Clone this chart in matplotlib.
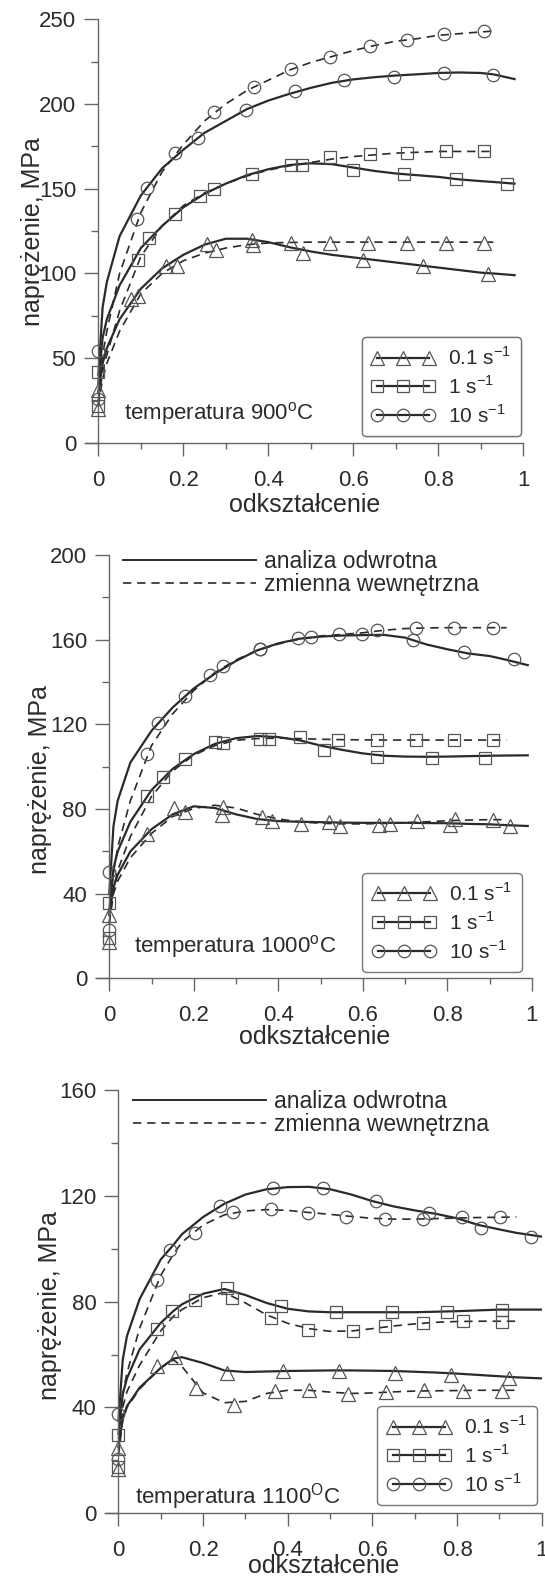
import numpy as np
import matplotlib.pyplot as plt
from matplotlib.lines import Line2D
from matplotlib.ticker import MultipleLocator

plt.rcParams['font.family'] = ['Liberation Sans', 'DejaVu Sans']
plt.rcParams['mathtext.fontset'] = 'custom'
plt.rcParams['mathtext.rm'] = 'Liberation Sans'

# oznaczenia predkosci odksztalcenia
rate_labels = ['0.1 s$^{-1}$', '1 s$^{-1}$', '10 s$^{-1}$']
rate_markers = ['^', 's', 'o']
line_labels = ['analiza odwrotna', 'zmienna wewnętrzna']

# ---------------- 900 C ----------------
eps_900 = [0, .01, .02, .05, .1, .15, .2, .25, .3, .35, .4, .45, .5, .55, .6, .65, .7, .75, .8, .85, .9, .93, .98]
sol_900_01 = [30, 47, 56, 73, 91, 103, 111, 117, 120.5, 120.5, 118.5, 115.5, 113, 111, 109.5, 108, 106.5, 105, 103.5, 102, 100.5, 100, 99]
sol_900_1 = [35, 62, 73, 93, 115, 128, 139, 147, 153, 158, 161.5, 164, 165, 164.5, 162.5, 160.5, 159, 158, 157, 155.5, 154.5, 154, 153]
sol_900_10 = [40, 80, 95, 122, 146, 162, 173, 183, 190, 197, 202, 206, 209.5, 212.5, 214.5, 215.8, 216.8, 217.5, 218.3, 218.6, 218.3, 217.5, 214.7]
das_900_01 = [22, 38, 47, 66, 88, 100, 107.5, 112, 115, 117, 118, 118.3, 118.5, 118.5, 118.5, 118.5, 118.5, 118.5, 118.5, 118.5, 118.5, 118.5]
das_900_1 = [25, 42, 52, 78, 110, 128, 140, 147.5, 153, 157.5, 161, 163.5, 165.5, 167.5, 169, 170, 171, 171.5, 172, 172, 172, 172]
das_900_10 = [30, 52, 66, 100, 136, 160, 176, 190, 200, 208, 214, 220, 224.5, 228, 231.5, 234.5, 237, 238.5, 240.5, 241.5, 242.5, 243]
pts_900_sol_01 = [(0, 31), (0.078, 85), (0.16, 104.5), (0.256, 117.6), (0.361, 120), (0.483, 112), (0.624, 108), (0.764, 104.5), (0.917, 99.6)]
pts_900_sol_1 = [(0, 41.8), (0.119, 121), (0.181, 135), (0.239, 145.7), (0.361, 158.4), (0.454, 164), (0.599, 161), (0.719, 158.8), (0.843, 155.5), (0.963, 153)]
pts_900_sol_10 = [(0, 54.5), (0.115, 150.6), (0.235, 180), (0.347, 196.7), (0.462, 207.5), (0.578, 214), (0.696, 216), (0.814, 218), (0.930, 217)]
pts_900_das_01 = [(0, 20), (0.094, 87), (0.185, 104.5), (0.276, 114), (0.363, 117), (0.454, 118), (0.545, 118), (0.636, 118), (0.727, 118), (0.818, 118), (0.909, 118)]
pts_900_das_1 = [(0, 21.6), (0.094, 108), (0.272, 149.6), (0.479, 164), (0.545, 168.6), (0.64, 170.6), (0.727, 171), (0.818, 172), (0.909, 172)]
pts_900_das_10 = [(0, 26), (0.09, 132), (0.181, 171), (0.272, 195), (0.366, 210), (0.454, 220.6), (0.545, 228), (0.639, 234), (0.727, 238), (0.814, 241), (0.909, 243)]

# ---------------- 1000 C ----------------
eps_1000 = [0, .01, .02, .05, .1, .15, .2, .25, .3, .35, .4, .45, .5, .55, .6, .65, .7, .75, .8, .85, .9, .94, .99]
sol_1000_01 = [30, 43, 49, 60, 70.5, 77.5, 81.3, 80.5, 77.5, 75.3, 74.3, 74, 73.8, 73.6, 73.5, 73.5, 73.5, 73.4, 73.3, 73, 72.8, 72.4, 72]
sol_1000_1 = [32, 52, 60, 74, 89, 99, 106, 110.8, 113.5, 114.5, 114, 112.5, 110, 108, 106.3, 105.2, 104.8, 104.7, 104.8, 105, 105.2, 105.3, 105.4]
sol_1000_10 = [40, 72, 84, 102, 117, 128, 137, 144, 150, 155, 158.3, 160.5, 161.5, 162, 162.2, 162.3, 161, 157.8, 155.5, 153.5, 152.3, 150.5, 148]
das_1000_01 = [26, 40, 46, 57, 68.5, 76.5, 80.3, 81.8, 80.5, 77.5, 75.3, 74, 73.3, 73, 73, 73.2, 73.6, 74, 74.5, 74.8, 75, 75]
das_1000_1 = [26, 42, 51, 67, 86, 98, 105.5, 110, 112.5, 113.3, 113.5, 113.3, 113, 112.8, 112.7, 112.6, 112.6, 112.6, 112.6, 112.6, 112.6, 112.6]
das_1000_10 = [30, 50, 62, 84, 110, 125, 136, 144.5, 150.5, 155, 158, 160.3, 161.8, 162.5, 163.3, 164.5, 165.3, 165.6, 165.7, 165.7, 165.7, 165.7]
pts_1000_sol_01 = [(0, 29.9), (0.152, 80.3), (0.266, 77.2), (0.386, 74.5), (0.521, 73.7), (0.665, 72.9), (0.805, 72.4), (0.947, 72)]
pts_1000_sol_1 = [(0, 35.4), (0.126, 95.3), (0.25, 111.8), (0.379, 112.9), (0.507, 107.9), (0.633, 104.7), (0.763, 104.3), (0.89, 104.3)]
pts_1000_sol_10 = [(0, 50.4), (0.116, 120.8), (0.238, 143.3), (0.357, 155.6), (0.477, 161.4), (0.597, 162.7), (0.718, 159.8), (0.84, 154.3), (0.957, 150.7)]
pts_1000_das_01 = [(0, 17.3), (0.09, 68.2), (0.18, 78.7), (0.27, 81.1), (0.361, 76.4), (0.453, 72.9), (0.546, 72), (0.637, 72.6), (0.728, 74.3), (0.817, 75.1), (0.908, 74.8)]
pts_1000_das_1 = [(0, 18.9), (0.09, 86.1), (0.18, 103.5), (0.27, 111), (0.357, 112.9), (0.451, 113.9), (0.542, 112.6), (0.633, 112.6), (0.726, 112.6), (0.816, 112.6), (0.907, 112.6)]
pts_1000_das_10 = [(0, 22.8), (0.09, 106), (0.179, 133.4), (0.27, 147.6), (0.357, 155.6), (0.447, 160.6), (0.543, 162.7), (0.633, 164.6), (0.726, 165.7), (0.816, 165.7), (0.907, 165.7)]

# ---------------- 1100 C ----------------
eps_1100 = [0, .01, .02, .05, .1, .13, .15, .2, .25, .3, .35, .4, .45, .5, .55, .6, .65, .7, .75, .8, .85, .9, .94, 1.0]
sol_1100_01 = [25, 36, 40.5, 47.5, 55, 58.5, 59, 56.8, 54, 53.4, 53.6, 53.8, 53.9, 54, 54, 53.9, 53.8, 53.5, 53.2, 52.8, 52.3, 51.8, 51.4, 51]
sol_1100_1 = [30, 45, 51, 62, 72, 76.5, 79, 83, 84.8, 82.5, 79.5, 77.3, 76.3, 76, 76, 76, 76, 76, 76.2, 76.4, 76.7, 77, 77, 77]
sol_1100_10 = [35, 58, 67, 81, 96, 101.5, 105.5, 112, 117, 120.5, 122.5, 123.3, 123.4, 122.5, 120.5, 118, 116, 114.5, 113.2, 111.5, 109, 107.3, 106, 104.6]
das_1100_01 = [22, 35, 40, 47, 55, 58, 55.5, 45.5, 41.8, 42.3, 45.3, 46.5, 46.5, 45.8, 45.3, 45.5, 45.9, 46.2, 46.3, 46.4, 46.5, 46.5, 46.5]
das_1100_1 = [24, 40, 46, 56, 69, 74.5, 77, 81.5, 83.5, 79.5, 75, 71.8, 69.8, 68.8, 68.9, 69.8, 70.8, 71.6, 72.2, 72.5, 72.6, 72.6, 72.6]
das_1100_10 = [28, 45, 53, 70, 90, 98, 102.5, 109, 112.8, 114.3, 114.8, 114.5, 113.7, 113, 112.2, 111.5, 111.2, 111.2, 111.4, 111.6, 111.8, 111.9, 112]
pts_1100_sol_01 = [(0, 24.6), (0.092, 55.6), (0.134, 58.9), (0.257, 53), (0.389, 53.7), (0.521, 53.7), (0.653, 53), (0.785, 52.4), (0.922, 51)]
pts_1100_sol_1 = [(0, 29.7), (0.091, 69.8), (0.127, 76.3), (0.181, 80.8), (0.257, 85), (0.384, 78.3), (0.513, 76), (0.647, 76), (0.777, 76), (0.905, 77)]
pts_1100_sol_10 = [(0, 37.5), (0.121, 99.6), (0.241, 116), (0.365, 122.9), (0.484, 122.9), (0.608, 118), (0.733, 113.4), (0.856, 108), (0.975, 104.4)]
pts_1100_das_01 = [(0, 16.8), (0.183, 47.2), (0.274, 41), (0.369, 46.3), (0.451, 46.6), (0.542, 45), (0.633, 45.9), (0.722, 46.6), (0.814, 46.2), (0.905, 46.3)]
pts_1100_das_1 = [(0, 17.5), (0.268, 81.5), (0.36, 73.7), (0.447, 69.2), (0.554, 68.8), (0.63, 70.8), (0.72, 72), (0.814, 72.7), (0.905, 72.4)]
pts_1100_das_10 = [(0, 20.7), (0.091, 88), (0.181, 106), (0.27, 113.8), (0.36, 114.9), (0.447, 113.4), (0.538, 112.1), (0.629, 111.2), (0.72, 111.2), (0.812, 111.9), (0.901, 111.9)]

LC = '#2a2a2a'   # kolor linii
MC = '#555555'   # kolor znacznikow
TC = '#2b2b2b'   # kolor tekstu
AC = '#666666'   # kolor osi

fig = plt.figure(figsize=(5.45, 15.77), dpi=100)

panels = [
    dict(rect=[0.1571, 0.7191, 0.8026, 0.2687], eps=eps_900, ymax=250, major=50, minor=25,
         sol=[sol_900_01, sol_900_1, sol_900_10], das=[das_900_01, das_900_1, das_900_10],
         psol=[pts_900_sol_01, pts_900_sol_1, pts_900_sol_10], pdas=[pts_900_das_01, pts_900_das_1, pts_900_das_10],
         temp='temperatura 900$^{\\mathrm{o}}$C', tpos=(0.0885, 0.070), leg=(0.9947, 0.0165),
         top=None, ylab=(-0.12, 0.5), xpad=1.5),
    dict(rect=[0.1772, 0.3796, 0.7989, 0.2684], eps=eps_1000, ymax=200, major=40, minor=20,
         sol=[sol_1000_01, sol_1000_1, sol_1000_10], das=[das_1000_01, das_1000_1, das_1000_10],
         psol=[pts_1000_sol_01, pts_1000_sol_1, pts_1000_sol_10], pdas=[pts_1000_das_01, pts_1000_das_1, pts_1000_das_10],
         temp='temperatura 1000$^{\\mathrm{o}}$C', tpos=(0.0859, 0.0763), leg=(0.9763, 0.0156),
         top=(0.06, 0.9566), ylab=(-0.13, 0.47), xpad=-1),
    dict(rect=[0.1941, 0.0404, 0.8000, 0.2684], eps=eps_1100, ymax=160, major=40, minor=20,
         sol=[sol_1100_01, sol_1100_1, sol_1100_10], das=[das_1100_01, das_1100_1, das_1100_10],
         psol=[pts_1100_sol_01, pts_1100_sol_1, pts_1100_sol_10], pdas=[pts_1100_das_01, pts_1100_das_1, pts_1100_das_10],
         temp='temperatura 1100$^{\\mathrm{O}}$C', tpos=(0.067, 0.0392), leg=(0.9883, 0.0196),
         top=(0.0617, 0.9457), ylab=(-0.128, 0.49), xpad=-5),
]

msizes = [9.5, 9, 9]

for p in panels:
    ax = fig.add_axes(p['rect'])
    eps = p['eps']
    for i in range(3):
        ax.plot(eps[:len(p['sol'][i])], p['sol'][i], '-', color=LC, lw=1.6, zorder=2)
        ax.plot(eps[:len(p['das'][i])], p['das'][i], color=LC, lw=1.2, dashes=(5, 3.5), zorder=2)
        for pts in (p['psol'][i], p['pdas'][i]):
            x, y = zip(*pts)
            ax.plot(x, y, ls='none', marker=rate_markers[i], ms=msizes[i], mfc='none',
                    mec=MC, mew=0.9, clip_on=False, zorder=3)

    ax.set_xlim(-0.03, 1.0)
    ax.set_ylim(0, p['ymax'])
    ax.spines['left'].set_position(('data', 0))
    ax.spines['top'].set_visible(False)
    ax.spines['right'].set_visible(False)
    for s in ('left', 'bottom'):
        ax.spines[s].set_color(AC)
        ax.spines[s].set_linewidth(1.0)
    ax.set_xticks([0, 0.2, 0.4, 0.6, 0.8, 1.0])
    ax.set_xticklabels(['0', '0.2', '0.4', '0.6', '0.8', '1'])
    ax.xaxis.set_minor_locator(MultipleLocator(0.1))
    ax.yaxis.set_major_locator(MultipleLocator(p['major']))
    ax.yaxis.set_minor_locator(MultipleLocator(p['minor']))
    ax.tick_params(axis='x', which='major', length=9.5, width=1, color=AC, labelsize=16, labelcolor=TC, pad=10)
    ax.tick_params(axis='x', which='minor', length=4.5, width=1, color=AC)
    ax.tick_params(axis='y', which='major', length=10, width=1, color=AC, labelsize=16, labelcolor=TC, pad=6)
    ax.tick_params(axis='y', which='minor', length=5, width=1, color=AC)

    ax.set_xlabel('odkształcenie', fontsize=18, color=TC, labelpad=p['xpad'])
    ax.set_ylabel('naprężenie, MPa', fontsize=18, color=TC, va='center')
    ax.yaxis.set_label_coords(*p['ylab'])

    ax.text(p['tpos'][0], p['tpos'][1], p['temp'], transform=ax.transAxes,
            fontsize=16, color=TC, ha='left', va='center')

    handles = [Line2D([], [], color=LC, lw=1.6, marker=m, ms=s, mfc='none', mec=MC, mew=0.9)
               for m, s in zip(rate_markers, msizes)]
    leg = ax.legend(handles, rate_labels, loc='lower right', bbox_to_anchor=p['leg'],
                    borderaxespad=0, fontsize=15, numpoints=3, handlelength=3.1,
                    handletextpad=0.6, labelspacing=0.3, borderpad=0.45,
                    fancybox=True, framealpha=1, edgecolor='#777777')
    leg.get_frame().set_linewidth(1.0)
    for t in leg.get_texts():
        t.set_color(TC)
    ax.add_artist(leg)

    if p['top'] is not None:
        h2 = [Line2D([], [], color=LC, lw=1.4), Line2D([], [], color=LC, lw=1.2, dashes=(5, 3.5))]
        leg2 = ax.legend(h2, line_labels, loc='center left', bbox_to_anchor=p['top'],
                         borderaxespad=0, borderpad=0, frameon=False, fontsize=16.5,
                         handlelength=5.8, handletextpad=0.35, labelspacing=0.0)
        for t in leg2.get_texts():
            t.set_color(TC)

fig.savefig('out.png', dpi=100)
